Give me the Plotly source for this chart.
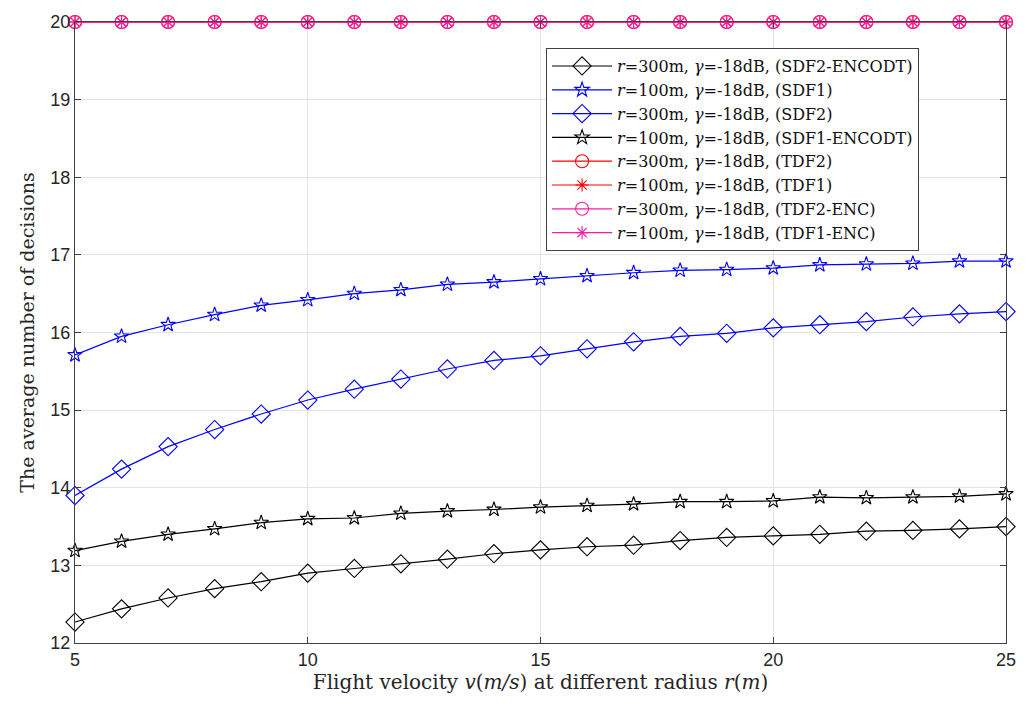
import plotly.graph_objects as go

v = list(range(5, 26))

sdf2_encodt = [12.27, 12.44, 12.58, 12.70, 12.79, 12.90, 12.96, 13.02, 13.08, 13.15, 13.20,
               13.24, 13.26, 13.32, 13.36, 13.38, 13.40, 13.44, 13.45, 13.47, 13.50]
sdf1 = [15.71, 15.95, 16.10, 16.23, 16.35, 16.42, 16.50, 16.55, 16.62, 16.65, 16.69,
        16.73, 16.77, 16.80, 16.81, 16.83, 16.87, 16.88, 16.89, 16.92, 16.92]
sdf2 = [13.90, 14.24, 14.53, 14.75, 14.95, 15.13, 15.27, 15.40, 15.53, 15.64, 15.70,
        15.79, 15.88, 15.95, 15.99, 16.06, 16.10, 16.14, 16.20, 16.24, 16.27]
sdf1_encodt = [13.19, 13.31, 13.40, 13.47, 13.55, 13.60, 13.61, 13.67, 13.70, 13.72, 13.75,
               13.77, 13.79, 13.82, 13.82, 13.83, 13.88, 13.87, 13.88, 13.89, 13.92]
tdf2 = [20] * 21
tdf1 = [20] * 21
tdf2_enc = [20] * 21
tdf1_enc = [20] * 21

pre300 = "<i>r</i>=300m, <i>γ</i>=-18dB, "
pre100 = "<i>r</i>=100m, <i>γ</i>=-18dB, "

series = [
    (sdf2_encodt, pre300 + "(SDF2-ENCODT)", "black", "diamond-open", 14),
    (sdf1, pre100 + "(SDF1)", "#0000FF", "star-open", 11),
    (sdf2, pre300 + "(SDF2)", "#0000FF", "diamond-open", 14),
    (sdf1_encodt, pre100 + "(SDF1-ENCODT)", "black", "star-open", 11),
    (tdf2, pre300 + "(TDF2)", "#FF0000", "circle-open", 13),
    (tdf1, pre100 + "(TDF1)", "#FF0000", "asterisk-open", 11),
    (tdf2_enc, pre300 + "(TDF2-ENC)", "#FF1AA8", "circle-open", 13),
    (tdf1_enc, pre100 + "(TDF1-ENC)", "#FF1AA8", "asterisk-open", 11),
]

fig = go.Figure()
for ys, name, col, sym, sz in series:
    fig.add_trace(go.Scatter(
        x=v, y=ys, name=name, mode="lines+markers",
        line=dict(color=col, width=1.2),
        marker=dict(symbol=sym, size=sz, color=col, line=dict(color=col, width=1.1)),
        cliponaxis=False,
    ))

axis_common = dict(
    showline=True, linecolor="#404040", linewidth=1, mirror="ticks",
    ticks="inside", ticklen=6, tickcolor="#404040",
    showgrid=True, gridcolor="#E3E3E3", gridwidth=1, zeroline=False,
    tickfont=dict(family="Liberation Sans, Arial", size=18, color="#262626"),
)

fig.update_layout(
    width=1032, height=708,
    margin=dict(l=75, r=26, t=18, b=65),
    plot_bgcolor="white", paper_bgcolor="white",
    xaxis=dict(range=[5, 25], tickvals=[5, 10, 15, 20, 25],
               title=dict(text="Flight velocity <i>v</i>(<i>m/s</i>) at different radius <i>r</i>(<i>m</i>)",
                          font=dict(family="DejaVu Serif", size=20, color="#262626"), standoff=6),
               **axis_common),
    yaxis=dict(range=[12, 20], dtick=1,
               title=dict(text="The average number of decisions",
                          font=dict(family="DejaVu Serif", size=19, color="#262626"), standoff=10),
               **axis_common),
    legend=dict(x=0.506, y=0.958, xanchor="left", yanchor="top",
                bgcolor="white", bordercolor="#404040", borderwidth=1,
                font=dict(family="DejaVu Serif", size=16, color="#111111"),
                tracegroupgap=0, itemwidth=60),
    showlegend=True,
)

fig.write_html("out.html")
